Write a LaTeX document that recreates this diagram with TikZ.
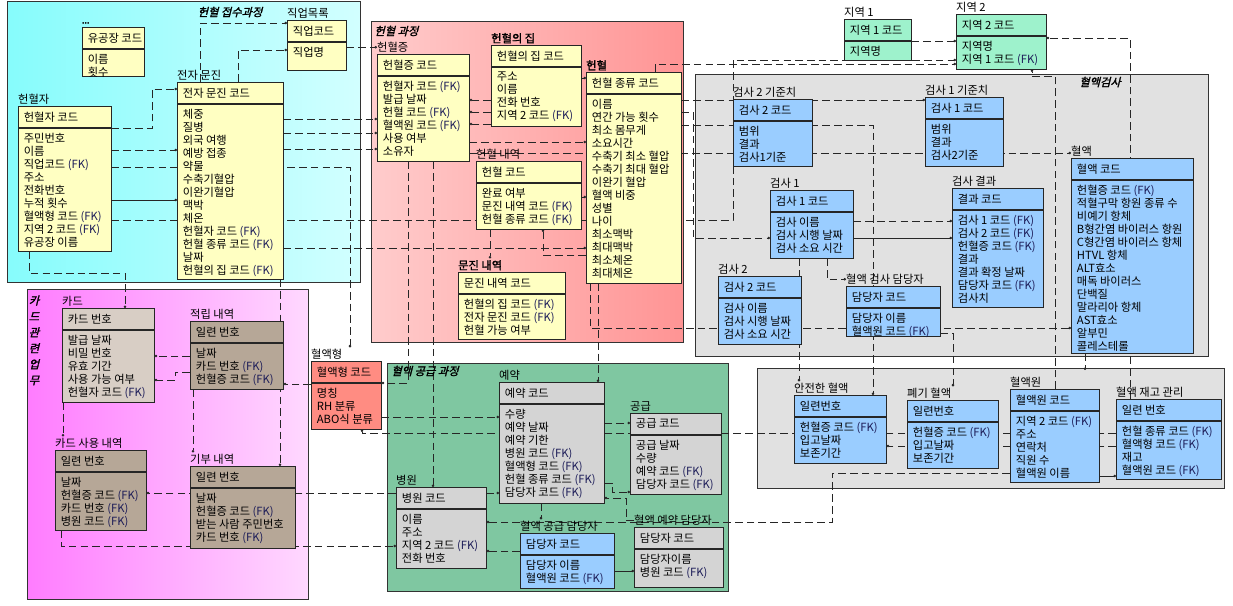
\documentclass[tikz,border=0pt]{standalone}
\usepackage{fontspec}
\setmainfont{Noto Sans CJK KR}
\newfontfamily\krb[FakeBold=1.5]{Noto Sans CJK KR}
\newfontfamily\krti[FakeBold=1.8,FakeSlant=0.25]{Noto Sans CJK KR}
\usepackage{xcolor}
\usetikzlibrary{positioning,calc,arrows.meta,shadows}
\definecolor{entyel}{HTML}{FFFFC2}
\definecolor{entblu}{HTML}{9ACDFF}
\definecolor{entgrn}{HTML}{9EF2CC}
\definecolor{entgry}{HTML}{D4D4D4}
\definecolor{enttpl}{HTML}{D8CEC5}
\definecolor{enttpd}{HTML}{B6A797}
\definecolor{entsal}{HTML}{FF8C82}
\definecolor{fkblue}{HTML}{1C1C58}
\definecolor{grpcyL}{HTML}{86FCFC}
\definecolor{grpcyR}{HTML}{D2FFFF}
\definecolor{grprdL}{HTML}{FFCCCC}
\definecolor{grprdR}{HTML}{FF9494}
\definecolor{grpmgL}{HTML}{FF7CFF}
\definecolor{grpmgR}{HTML}{FFD8FF}
\definecolor{grpgrn}{HTML}{7FC7A1}
\definecolor{grpgry}{HTML}{E1E1E1}
\pgfdeclarelayer{grp}
\pgfdeclarelayer{lnk}
\pgfsetlayers{grp,lnk,main}
\def\pxu{0.03cm}
\newcommand\fk{{\color{fkblue}(FK)}}
\newcommand\entfont{\fontsize{9.6}{11.1}\selectfont}
% one entity: header, body, rows, name above
\newcommand\entbox[9]{%
  \pgfmathsetlengthmacro\entw{#4*\pxu}%
  \pgfmathsetlengthmacro\enth{#5*\pxu}%
  \node[enthead,fill=#6,minimum width=\entw] (#1) at (#2,#3) {};
  \node[entbody,fill=#6,minimum width=\entw,minimum height=\enth] (#1b) at (#1.south west) {};
  \node[enttext] (#1h) at (#1.west) {#8};
  \node[entrows] (#1r) at ([yshift=-4.3pt]#1b.north west) {#9};
  \node[entlabel] (#1l) at (#1.north west) {#7};
}
\tikzset{
  enthead/.style={anchor=north west,draw=black!85,line width=0.6pt,inner sep=0pt,
    minimum height=0.63cm,drop shadow={shadow xshift=0.9pt,shadow yshift=-0.9pt,fill=black!75,opacity=1}},
  entbody/.style={enthead},
  enttext/.style={anchor=west,inner xsep=0.17cm,inner ysep=0pt,font=\entfont},
  entrows/.style={anchor=north west,align=left,inner xsep=0.17cm,inner ysep=0pt,font=\entfont},
  entlabel/.style={anchor=south west,inner xsep=0pt,inner ysep=1.2pt,font=\entfont},
  rel/.style={draw=black!85,line width=0.55pt,dash pattern=on 6.5pt off 3.5pt,-{Circle[length=2.2pt]}},
  idr/.style={draw=black!85,line width=0.55pt,-{Circle[length=2.2pt]}},
  grpbox/.style={draw=black!80,line width=0.6pt},
  grptitle/.style={font=\krti\fontsize{9.6}{11}\selectfont,inner sep=1pt}
}
\begin{document}
\begin{tikzpicture}[x=0.03cm,y=-0.03cm]
\useasboundingbox (0,0) rectangle (1233,605);
% subject areas
\begin{pgfonlayer}{grp}
\draw[grpbox,left color=grpcyL,right color=grpcyR] (7,1) rectangle (360,282);
\draw[grpbox,left color=grprdL,right color=grprdR] (371,21) rectangle (683,342);
\draw[grpbox,left color=grpmgL,right color=grpmgR] (27,289) rectangle (308,599);
\draw[grpbox,fill=grpgrn] (387,363) rectangle (728,591);
\draw[grpbox,fill=grpgry] (695,74) rectangle (1208,356);
\draw[grpbox,fill=grpgry] (757,368) rectangle (1224,488);
\end{pgfonlayer}
% entities
\entbox{ygj}{82}{27}{62}{27}{entyel}{{\fontsize{6}{6}\selectfont •••}}{유공장 코드}{이름\\횟수}
\entbox{jyb}{287}{20}{59}{28}{entyel}{직업목록}{직업코드}{직업명}
\entbox{jjm}{177}{82}{106}{175}{entyel}{전자 문진}{전자 문진 코드}{체중\\질병\\외국 여행\\예방 접종\\약물\\수축기혈압\\이완기혈압\\맥박\\체온\\헌혈자 코드 \fk\\헌혈 종류 코드 \fk\\날짜\\헌혈의 집 코드 \fk}
\entbox{hjx}{18}{106}{93}{123}{entyel}{헌혈자}{헌혈자 코드}{주민번호\\이름\\직업코드 \fk\\주소\\전화번호\\누적 횟수\\혈액형 코드 \fk\\지역 2 코드 \fk\\유공장 이름}
\entbox{hjz}{377}{54}{92}{85}{entyel}{헌혈증}{헌혈증 코드}{헌혈자 코드 \fk\\발급 날짜\\헌혈 코드 \fk\\혈액원 코드 \fk\\사용 여부\\소유자}
\entbox{hjh}{491}{45}{90}{59}{entyel}{\krb 헌혈의 집}{헌혈의 집 코드}{주소\\이름\\전화 번호\\지역 2 코드 \fk}
\entbox{hjr}{586}{72}{95}{189}{entyel}{\krb 헌혈}{헌혈 종류 코드}{이름\\연간 가능 횟수\\최소 몸무게\\소요시간\\수축기 최소 혈압\\수축기 최대 혈압\\이완기 혈압\\혈액 비중\\성별\\나이\\최소맥박\\최대맥박\\최소체온\\최대체온}
\entbox{hjn}{476}{161}{105}{46}{entyel}{헌혈 내역}{헌혈 코드}{완료 여부\\문진 내역 코드 \fk\\헌혈 종류 코드 \fk}
\entbox{mjn}{458}{272}{107}{45}{entyel}{\krb 문진 내역}{문진 내역 코드}{헌혈의 집 코드 \fk\\전자 문진 코드 \fk\\헌혈 가능 여부}
\entbox{jy1}{844}{19}{67}{19}{entgrn}{지역 1}{지역 1 코드}{지역명}
\entbox{jy2}{956}{14}{90}{33}{entgrn}{지역 2}{지역 2 코드}{지역명\\지역 1 코드 \fk}
\entbox{gs2k}{733}{99}{79}{45}{entblu}{검사 2 기준치}{검사 2 코드}{범위\\결과\\검사1기준}
\entbox{gs1k}{925}{97}{78}{47}{entblu}{검사 1 기준치}{검사 1 코드}{범위\\결과\\검사2기준}
\entbox{gs1}{770}{190}{83}{46}{entblu}{검사 1}{검사 1 코드}{검사 이름\\검사 시행 날짜\\검사 소요 시간}
\entbox{gs2}{718}{276}{83}{46}{entblu}{검사 2}{검사 2 코드}{검사 이름\\검사 시행 날짜\\검사 소요 시간}
\entbox{gsr}{952}{188}{91}{97}{entblu}{검사 결과}{결과 코드}{검사 1 코드 \fk\\검사 2 코드 \fk\\헌혈증 코드 \fk\\결과\\결과 확정 날짜\\담당자 코드 \fk\\검사치}
\entbox{hgd}{846}{286}{94}{28}{entblu}{혈액 검사 담당자}{담당자 코드}{담당자 이름\\혈액원 코드 \fk}
\entbox{hy}{1071}{158}{122}{173}{entblu}{혈액}{혈액 코드}{헌혈증 코드 \fk\\적혈구막 항원 종류 수\\비예기 항체\\B형간염 바이러스 항원\\C형간염 바이러스 항체\\HTVL 항체\\ALT효소\\매독 바이러스\\단백질\\말라리아 항체\\AST효소\\알부민\\콜레스테롤}
\entbox{card}{62}{308}{92}{72}{enttpl}{카드}{카드 번호}{발급 날짜\\비밀 번호\\유효 기간\\사용 가능 여부\\헌혈자 코드 \fk}
\entbox{jr}{190}{321}{93}{46}{enttpd}{적립 내역}{일련 번호}{날짜\\카드 번호 \fk\\헌혈증 코드 \fk}
\entbox{cu}{55}{450}{91}{58}{enttpd}{카드 사용 내역}{일련 번호}{날짜\\헌혈증 코드 \fk\\카드 번호 \fk\\병원 코드 \fk}
\entbox{gb}{190}{466}{105}{60}{enttpd}{기부 내역}{일련 번호}{날짜\\헌혈증 코드 \fk\\받는 사람 주민번호\\카드 번호 \fk}
\entbox{hyh}{311}{361}{70}{46}{entsal}{혈액형}{혈액형 코드}{명칭\\RH 분류\\ABO식 분류}
\entbox{yy}{499}{382}{105}{99}{entgry}{예약}{예약 코드}{수량\\예약 날짜\\예약 기한\\병원 코드 \fk\\혈액형 코드 \fk\\헌혈 종류 코드 \fk\\담당자 코드 \fk}
\entbox{gg}{630}{413}{91}{59}{entgry}{공급}{공급 코드}{공급 날짜\\수량\\예약 코드 \fk\\담당자 코드 \fk}
\entbox{bw}{396}{487}{90}{59}{entgry}{병원}{병원 코드}{이름\\주소\\지역 2 코드 \fk\\전화 번호}
\entbox{hgg}{520}{533}{94}{33}{entblu}{혈액 공급 담당자}{담당자 코드}{담당자 이름\\혈액원 코드 \fk}
\entbox{hyd}{634}{527}{89}{38}{entgry}{혈액 예약 담당자}{담당자 코드}{담당자이름\\병원 코드 \fk}
\entbox{ajh}{794}{395}{92}{46}{entblu}{안전한 혈액}{일련번호}{헌혈증 코드 \fk\\입고날짜\\보존기간}
\entbox{pgh}{907}{400}{91}{46}{entblu}{폐기 혈액}{일련번호}{헌혈증 코드 \fk\\입고날짜\\보존기간}
\entbox{hyw}{1010}{389}{89}{71}{entblu}{혈액원}{혈액원 코드}{지역 2 코드 \fk\\주소\\연락처\\직원 수\\혈액원 이름}
\entbox{hjg}{1116}{399}{105}{58}{entblu}{혈액 재고 관리}{일련 번호}{헌혈 종류 코드 \fk\\혈액형 코드 \fk\\재고\\혈액원 코드 \fk}
\coordinate (hyend) at (1085,370);
% relationships
\begin{pgfonlayer}{lnk}
\draw[rel] (hjx.east |- 0,128) -| (152,89) -- (jjm.west |- 0,89);
\draw[rel] (jjm.north -| 200,0) |- (jyb.west |- 0,23);
\draw[rel] (jjm.north -| 238,0) |- (jyb.west |- 0,50);
\draw[rel] (jyb.east |- hjzl.west) -- (hjzl.west);
\draw[rel] (hjx.east |- 0,150) -- (jjm.west |- 0,150);
\draw[rel] (hjx.east |- 0,167) -| (hyhl.north -| 350,0);
\draw[idr] (hjx.east |- 0,200) -- (jjm.west |- 0,200);
\draw[rel] (hjx.east |- 0,220) -- (733,220) |- (jy2b.west |- 0,60);
\draw[rel] (jjm.east |- 0,248) -- (hjr.west |- 0,248);
\foreach \ly in {119,133,149}
  \draw[rel] (jjm.east |- 0,\ly) -- (hjz.west |- 0,\ly);
\foreach \ly in {100,112,124}
  \draw[rel] (hjh.west |- 0,\ly) -- (hjz.east |- 0,\ly);
\draw[rel] (hjh.east |- 0,78) -- (hjr.west |- 0,78);
\draw[rel] (hjz.east |- 0,142) -- (hjr.west |- 0,142);
\draw[rel] (hjz.east |- 0,153) -- (hyl.west |- 0,153);
\draw[rel] (hjnb.east |- 0,197) -- (hjrb.west |- 0,197);
\draw[rel] (hjr.west |- 0,255) -| (hjnb.south -| 543,0);
\draw[rel] (hjnb.south -| 490,0) -- (mjnl.north -| 490,0);
\draw[rel] (hjrb.south -| 590,0) |- (hyb.west |- 0,328);
\draw[rel] (hjrb.south -| 598,0) -- (yy.north -| 598,0);
\draw[rel] (hjr.east |- 0,100) -- (gs1k.west |- 0,100);
\draw[rel] (hjr.east |- 0,125) -| (ajh.north -| 873,0);
\draw[rel] (hjr.east |- 0,112) -| (693,238) -- (gs1.west |- 0,238);
\draw[rel] (hjr.north -| 655,0) |- (jy2b.west |- 0,64);
\draw[rel] (jy1b.east |- 0,41) -- (jy2b.west |- 0,41);
\draw[rel] (hjg.north -| 1130,0) |- (jy2b.east |- 0,38);
\draw[rel] (hyw.north -| 1055,0) -- (1055,76) -| (jy2b.south -| 1032,0);
\draw[rel] (hyb.south -| 1085,0) -- (hyend);
\draw[rel] (gs1b.east |- 0,221) -- (gsr.west |- 0,221);
\draw[idr] (gs1b.east |- 0,238) -- (gsr.west |- 0,238);
\draw[rel] (gs1b.south -| 827,0) |- (hgdl.west);
\draw[rel] (gs1b.south -| 799,0) -- (ajhl.north -| 799,0);
\draw[rel] (hgdb.east |- 0,333) -| (pghl.north -| 953,0);
\draw[rel] (hjgb.west |- 0,433) -| (hyhb.south -| 362,0);
\draw[rel] (hjgb.west |- 0,446) -- (ajhb.east |- 0,446);
\draw[idr] (hywb.east |- 0,476) -- (hjgb.west |- 0,476);
\draw[rel] (hywb.west |- 0,473) -| (832,522) -- (bwb.east |- 0,522);
\draw[rel] (hyhb.east |- 0,417) -- (yyb.west |- 0,417);
\draw[rel] (hjzb.south -| 408,0) |- (hyhb.east |- 0,383);
\draw[rel] (hjzb.south -| 433,0) -- (bw.north -| 433,0);
\draw[rel] (bw.west |- 0,493) -- (cub.east |- 0,493);
\draw[rel] (bw.east |- 0,493) -- (yyb.west |- 0,493);
\draw[rel] (cub.south -| 61,0) |- (bwb.west |- 0,546);
\draw[rel] (cardb.south -| 63,0) -- (cul.north -| 63,0);
\draw[rel] (hjxb.south -| 29,0) |- (125,273) -- (card.north -| 125,0);
\draw[rel] (jrb.west |- 0,356) -- (cardb.east |- 0,356);
\draw[rel] (jrb.west |- 0,372) -| (175,380) -- (cardb.east |- 0,380);
\draw[rel] (jrb.south -| 193,0) -- (gbl.north -| 193,0);
\draw[rel] (jjmb.south -| 280,0) -- (gb.north -| 280,0);
\draw[rel] (hyhb.west |- 0,384) -- (jrb.east |- 0,384);
\draw[rel] (yyb.east |- 0,423) -- (gg.west |- 0,423);
\draw[rel] (yyb.east |- 0,483) -| (612,492) -- (ggb.west |- 0,492);
\draw[rel] (hydl.west) -| (626,498) -- (yyb.east |- 0,498);
\draw[rel] (yyb.south -| 541,0) -- (hggl.north -| 541,0);
\draw[rel] (hgg.west |- 0,551) -- (bwb.east |- 0,551);
\draw[idr] (hggb.east |- 0,571) -- (hydb.west |- 0,571);
\end{pgfonlayer}
% subject area titles
\node[grptitle] (tjs) at (230,12) {헌혈 접수과정};
\node[grptitle,anchor=west] (tgj) at (373,31) {헌혈 과정};
\node[grptitle,anchor=north,align=center,font=\krti\fontsize{9.6}{13.6}\selectfont] (tcd) at (34,294) {카\\드\\관\\련\\업\\무};
\node[grptitle,anchor=west] (tgg) at (390,371) {혈액 공급 과정};
\node[grptitle] (tgs) at (1100,82) {혈액검사};
\end{tikzpicture}
\end{document}
